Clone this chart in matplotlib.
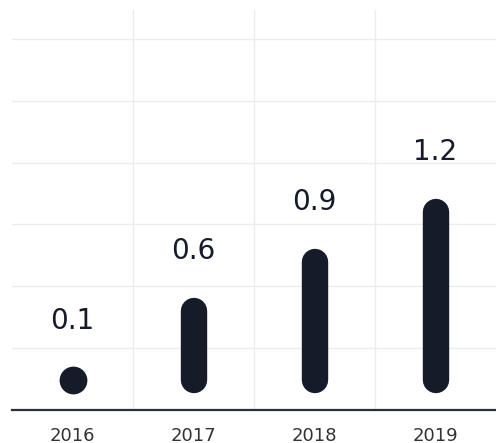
import matplotlib
matplotlib.use("Agg")
import matplotlib.pyplot as plt
import numpy as np

# chart data
years = ["2016", "2017", "2018", "2019"]
values = [0.1, 0.6, 0.9, 1.2]

bar_color = "#161b29"
grid_color = "#ececec"

fig = plt.figure(figsize=(4.96, 4.43), dpi=100)
ax = fig.add_axes([12 / 496, 33 / 443, 484 / 496, 400 / 443])

x = np.arange(len(years))
pad = 0.18  # rounded bars start a little above the baseline

for i, v in enumerate(values):
    top = max(v, pad)
    if v > pad:
        ax.plot([x[i], x[i]], [pad, top], color=bar_color, lw=19,
                solid_capstyle="round", zorder=3)
    else:
        # too short for a bar, draw it as a dot
        ax.plot(x[i], top, "o", color=bar_color, markersize=20,
                markeredgewidth=0, zorder=3)
    ax.annotate(f"{v:.1f}", xy=(x[i], top), xytext=(0, 43),
                textcoords="offset points", ha="center", va="center",
                fontsize=20, color=bar_color, zorder=4)

ax.set_xlim(-0.5, len(years) - 0.5)
ax.set_ylim(0, 400 / 165)

# grid
ax.set_yticks(np.arange(0.375, 2.3, 0.375))
ax.set_xticks(x)
ax.set_xticks(x[:-1] + 0.5, minor=True)
ax.grid(axis="y", which="major", color=grid_color, lw=1, zorder=0)
ax.grid(axis="x", which="minor", color=grid_color, lw=1, zorder=0)
ax.tick_params(axis="y", left=False, labelleft=False)
ax.tick_params(axis="x", which="both", length=0, pad=12,
               labelsize=13, labelcolor="#333333")
ax.set_xticklabels(years)

for s in ["top", "right", "left"]:
    ax.spines[s].set_visible(False)
ax.spines["bottom"].set_color("#2b2f3a")
ax.spines["bottom"].set_linewidth(1.6)

fig.savefig("out.png", dpi=100)
